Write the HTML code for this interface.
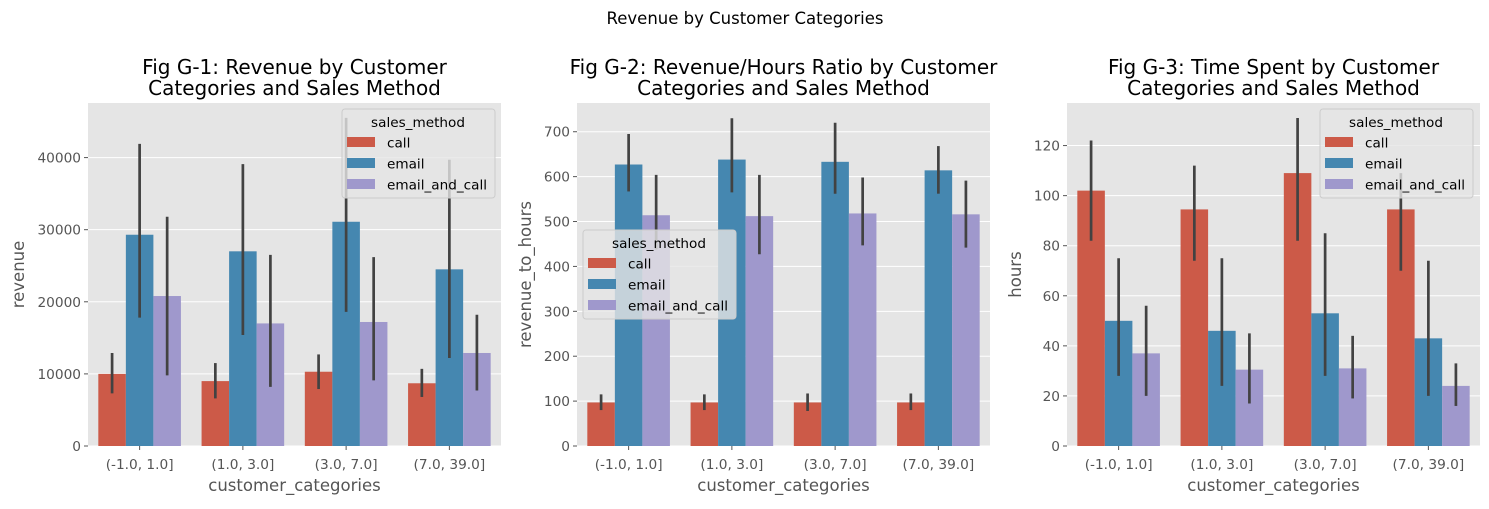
<!DOCTYPE html>
<html><head><meta charset="utf-8"><style>
body{margin:0;background:#fff;}
svg text{font-family:"DejaVu Sans","Liberation Sans",sans-serif;}
</style></head><body>
<svg id="fig" width="1489" height="504" xmlns="http://www.w3.org/2000/svg">
<text x="745" y="24" text-anchor="middle" font-size="16.5" fill="#000">Revenue by Customer Categories</text>
</svg>
<script>
const categories = ["(-1.0, 1.0]", "(1.0, 3.0]", "(3.0, 7.0]", "(7.0, 39.0]"];
const methods = ["call", "email", "email_and_call"];
// Panel 1: revenue
const revMean = [[10000, 9000, 10300, 8700], [29300, 27000, 31100, 24500], [20800, 17000, 17200, 12900]];
const revLo = [[7300, 6600, 7900, 6800], [17800, 15400, 18600, 12200], [9800, 8200, 9100, 7700]];
const revHi = [[12900, 11500, 12700, 10700], [41900, 39100, 45500, 39700], [31800, 26500, 26200, 18200]];
const revTicks = [0, 10000, 20000, 30000, 40000];
// Panel 2: revenue_to_hours
const ratioMean = [[97, 97, 97, 97], [627, 638, 633, 614], [514, 512, 518, 516]];
const ratioLo = [[80, 80, 78, 80], [567, 565, 562, 562], [438, 427, 447, 442]];
const ratioHi = [[115, 115, 117, 117], [695, 730, 720, 668], [604, 604, 598, 591]];
const ratioTicks = [0, 100, 200, 300, 400, 500, 600, 700];
// Panel 3: hours
const hoursMean = [[102, 94.5, 109, 94.5], [50, 46, 53, 43], [37, 30.5, 31, 24]];
const hoursLo = [[82, 74, 82, 70], [28, 24, 28, 20], [20, 17, 19, 16]];
const hoursHi = [[122, 112, 131, 109], [75, 75, 85, 74], [56, 45, 44, 33]];
const hoursTicks = [0, 20, 40, 60, 80, 100, 120];

const colors = ["#cc5a48", "#4587b0", "#9f98cc"];
const NS = "http://www.w3.org/2000/svg";
const svg = document.getElementById("fig");
function mk(tag, attrs, parent) {
  const e = document.createElementNS(NS, tag);
  for (const k in attrs) e.setAttribute(k, attrs[k]);
  (parent || svg).appendChild(e);
  return e;
}
function panel(cfg) {
  const g = mk("g", {});
  
  
  const L = cfg.left, R = cfg.left + 413, T = 103, B = 446;
  const ys = v => B - v / cfg.ymax * (B - T);
  const bw = (R - L) / categories.length;
  const xc = i => L + (i + 0.5) * bw;
  const bg = mk("rect", {x: L, y: T, width: R - L, height: B - T, fill: "#e5e5e5"}, g);
  
  
  cfg.ticks.forEach(t => {
    const y = ys(t);
    mk("line", {x1: L, x2: R, y1: y, y2: y, stroke: "#fff", "stroke-width": 1}, g);
    mk("line", {x1: L - 4, x2: L, y1: y, y2: y, stroke: "#555", "stroke-width": 1}, g);
    const tx = mk("text", {x: L - 7, y: y + 5, "text-anchor": "end", "font-size": 13.7, fill: "#555"}, g);
    tx.textContent = t;
    
    
  });
  categories.forEach((c, i) => {
    mk("line", {x1: xc(i), x2: xc(i), y1: B, y2: B + 4, stroke: "#555", "stroke-width": 1}, g);
    const tx = mk("text", {x: xc(i), y: B + 23, "text-anchor": "middle", "font-size": 13.7, fill: "#555"}, g);
    tx.textContent = c;
    
    
  });
  const w = bw * 0.8 / 3;
  methods.forEach((m, j) => {
    categories.forEach((c, i) => {
      const x0 = xc(i) - bw * 0.4 + j * w;
      const y = ys(cfg.mean[j][i]);
      const r = mk("rect", {x: x0, y: y, width: w, height: B - y, fill: colors[j]}, g);
      
      
    });
  });
  methods.forEach((m, j) => {
    categories.forEach((c, i) => {
      const xm = xc(i) - bw * 0.4 + (j + 0.5) * w;
      const e = mk("line", {x1: xm, x2: xm, y1: ys(cfg.lo[j][i]), y2: ys(cfg.hi[j][i]), stroke: "#424242", "stroke-width": 2.7}, g);
      
      
    });
  });
  const cx = (L + R) / 2;
  cfg.title.forEach((t, k) => {
    const tt = mk("text", {x: cx, y: 74 + k * 21, "text-anchor": "middle", "font-size": 20, fill: "#000"}, g);
    tt.textContent = t;
    
    
  });
  const xl = mk("text", {x: cx, y: 491, "text-anchor": "middle", "font-size": 16.5, fill: "#555"}, g);
  xl.textContent = "customer_categories";
  
  
  const yx = cfg.ylabX, yy = (T + B) / 2;
  const yl = mk("text", {x: yx, y: yy, "text-anchor": "middle", "font-size": 16.5, fill: "#555", transform: `rotate(-90 ${yx} ${yy})`}, g);
  yl.textContent = cfg.ylabel;
  
  
  // legend
  const lx = cfg.leg[0], ly = cfg.leg[1];
  const lg = mk("g", {}, g);
  
  
  mk("rect", {x: lx, y: ly, width: 153, height: 89, rx: 3, fill: "#e5e5e5", "fill-opacity": 0.8, stroke: "#cccccc", "stroke-width": 1}, lg);
  const lt = mk("text", {x: lx + 76, y: ly + 18, "text-anchor": "middle", "font-size": 13.6, fill: "#000"}, lg);
  lt.textContent = "sales_method";
  methods.forEach((m, j) => {
    const ent = mk("g", {}, lg);
    
    
    mk("rect", {x: lx + 5, y: ly + 28 + j * 21, width: 28, height: 10, fill: colors[j]}, ent);
    const t = mk("text", {x: lx + 45, y: ly + 38.5 + j * 21, "font-size": 13.6, fill: "#000"}, ent);
    t.textContent = m;
  });
}
panel({name: "panel-revenue", left: 88, ymax: 47570, ticks: revTicks, mean: revMean, lo: revLo, hi: revHi,
  title: ["Fig G-1: Revenue by Customer", "Categories and Sales Method"], ylabel: "revenue", ylabX: 24, leg: [342, 109]});
panel({name: "panel-revenue-to-hours", left: 577, ymax: 764, ticks: ratioTicks, mean: ratioMean, lo: ratioLo, hi: ratioHi,
  title: ["Fig G-2: Revenue/Hours Ratio by Customer", "Categories and Sales Method"], ylabel: "revenue_to_hours", ylabX: 531, leg: [583, 230]});
panel({name: "panel-hours", left: 1067, ymax: 137, ticks: hoursTicks, mean: hoursMean, lo: hoursLo, hi: hoursHi,
  title: ["Fig G-3: Time Spent by Customer", "Categories and Sales Method"], ylabel: "hours", ylabX: 1021, leg: [1320, 109]});
</script>
</body></html>
